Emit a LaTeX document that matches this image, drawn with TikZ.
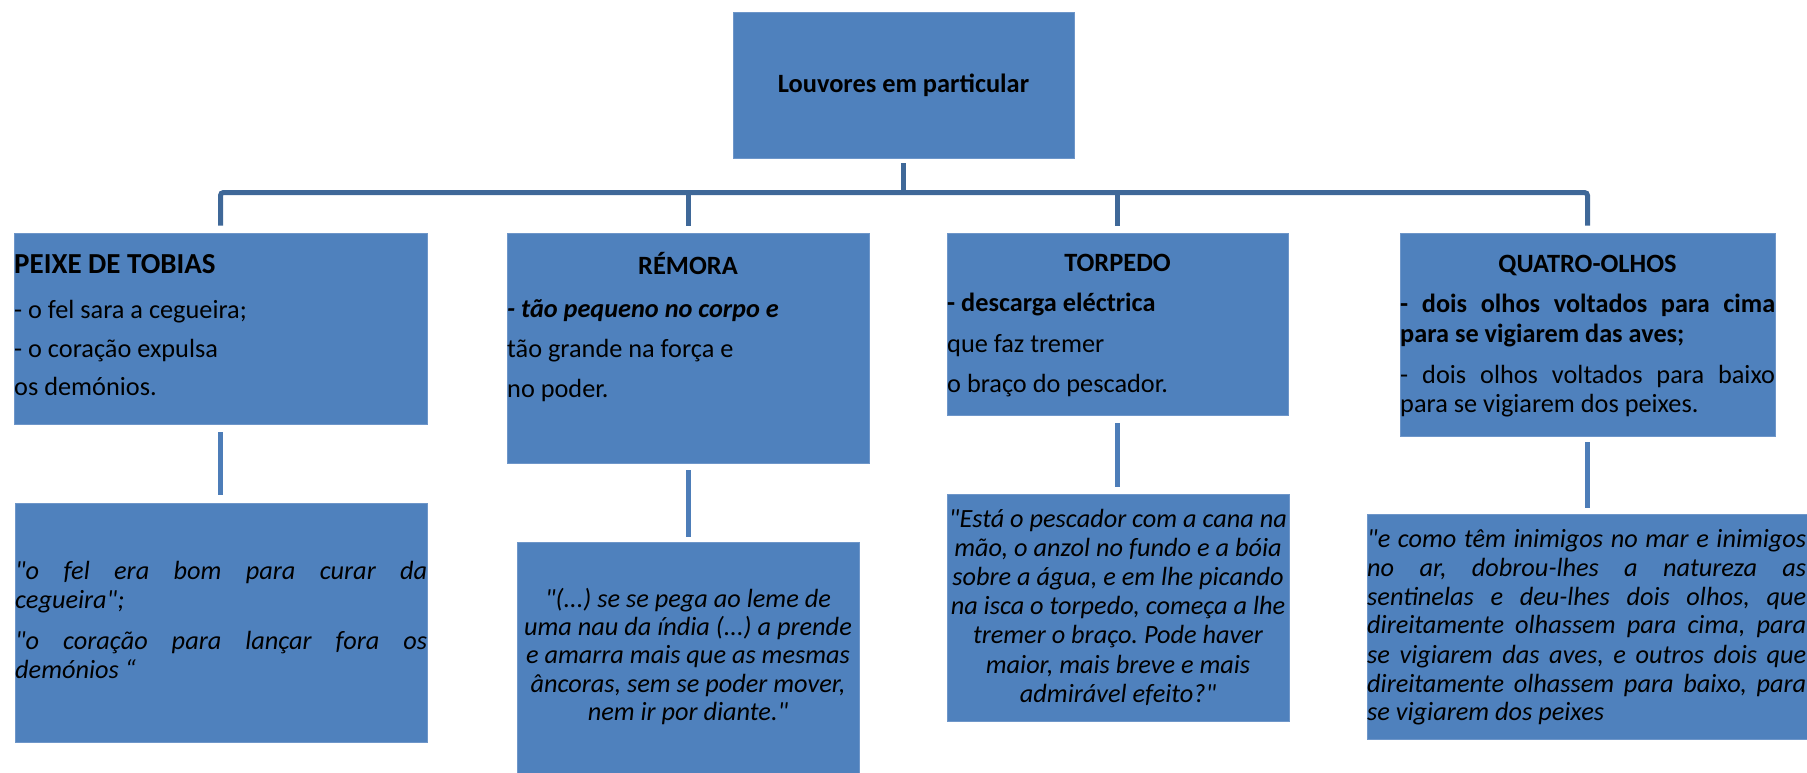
\documentclass[tikz,border=0pt]{standalone}
\usepackage{fontspec}
\setmainfont{Carlito}[Ligatures=TeXOff]
\frenchspacing
\definecolor{boxblue}{HTML}{4F81BD}
\definecolor{boxedge}{HTML}{6E96C9}
\definecolor{treeblue}{HTML}{3F6898}
\definecolor{linkblue}{HTML}{4D7DB8}
\tikzset{
  box/.style={fill=boxblue, draw=boxedge, line width=0.8pt, inner sep=0pt},
  treelink/.style={draw=treeblue, line width=5pt},
  lowlink/.style={draw=linkblue, line width=5pt},
  txt/.style={inner sep=0pt, anchor=base west, font=\fontsize{26.3}{30}\selectfont},
  ctxt/.style={inner sep=0pt, anchor=base, font=\fontsize{26.3}{30}\selectfont},
  head/.style={inner sep=0pt, anchor=base, font=\fontsize{26.4}{30}\selectfont\bfseries},
}
\begin{document}
\begin{tikzpicture}[x=1pt,y=-1pt]
\useasboundingbox (0,0) rectangle (1807,773);
% boxes
\node[box, minimum width=341pt, minimum height=146pt] (top) at (903.5,85) {};
\node[box, minimum width=413pt, minimum height=191pt] (peixe) at (220.5,328.5) {};
\node[box, minimum width=362pt, minimum height=230pt] (remora) at (688,348) {};
\node[box, minimum width=341pt, minimum height=182pt] (torpedo) at (1117.5,324) {};
\node[box, minimum width=375pt, minimum height=203pt] (quatro) at (1587.5,334.5) {};
\node[box, minimum width=412pt, minimum height=239pt] (peixeQ) at (221,622.5) {};
\node[box, minimum width=342pt, minimum height=240pt] (remoraQ) at (688,662) {};
\node[box, minimum width=342pt, minimum height=227pt] (torpedoQ) at (1118,607.5) {};
\node[box, minimum width=442pt, minimum height=225pt] (quatroQ) at (1588,626.5) {};
% tree connectors
\coordinate (bus) at (903.5,192.5);
\draw[treelink] ([yshift=-5pt]top.south) -- (top.south |- bus);
\draw[treelink, rounded corners=3pt] ([yshift=7pt]peixe.north) -- (peixe.north |- bus) -- (quatro.north |- bus) -- ([yshift=7pt]quatro.north);
\draw[treelink] (remora.north |- bus) -- ([yshift=7pt]remora.north);
\draw[treelink] (torpedo.north |- bus) -- ([yshift=7pt]torpedo.north);
% lower connectors
\draw[lowlink] ([yshift=-8pt]peixe.south) -- ([yshift=8pt]peixe.south |- peixeQ.north);
\draw[lowlink] ([yshift=-7pt]remora.south) -- ([yshift=5pt]remora.south |- remoraQ.north);
\draw[lowlink] ([yshift=-8pt]torpedo.south) -- ([yshift=7pt]torpedo.south |- torpedoQ.north);
\draw[lowlink] ([yshift=-6pt]quatro.south) -- ([yshift=6pt]quatro.south |- quatroQ.north);
% top text
\node[head] (ttop) at (903.5,93) {Louvores em particular};
% peixe
\node[txt, font=\fontsize{29}{32}\selectfont\bfseries] (p0) at (14,273) {PEIXE DE TOBIAS};
\node[txt] (p1) at (14,318) {- o fel sara a cegueira;};
\node[txt] (p2) at (14,357) {- o coração expulsa};
\node[txt] (p3) at (14,395) {os demónios.};
% remora
\node[head] (r0) at (688,274) {RÉMORA};
\node[txt] (r1) at (507,317) {\bfseries\itshape - tão pequeno no corpo e};
\node[txt] (r2) at (507,357) {tão grande na força e};
\node[txt] (r3) at (507,397) {no poder.};
% torpedo
\node[head] (o0) at (1117.5,271) {TORPEDO};
\node[txt] (o1) at (947,311) {\bfseries - descarga eléctrica};
\node[txt] (o2) at (947,352) {que faz tremer};
\node[txt] (o3) at (947,392) {o braço do pescador.};
% quatro
\node[head] (q0) at (1587.5,272) {QUATRO-OLHOS};
\node[txt] (q1) at (1400,312) {\bfseries\makebox[375pt][s]{- dois olhos voltados para cima}};
\node[txt] (q2) at (1400,342) {\bfseries para se vigiarem das aves;};
\node[txt] (q3) at (1400,383) {\makebox[375pt][s]{- dois olhos voltados para baixo}};
\node[txt] (q4) at (1400,412) {para se vigiarem dos peixes.};
% peixe quote
\node[txt] (pq1) at (15,579) {\itshape\makebox[412pt][s]{"o fel era bom para curar da}};
\node[txt] (pq2) at (15,608) {\itshape cegueira";};
\node[txt] (pq3) at (15,649) {\itshape\makebox[412pt][s]{"o coração para lançar fora os}};
\node[txt] (pq4) at (15,678) {\itshape demónios “};
% remora quote
\node[ctxt] (rq1) at (688,607) {\itshape "(...) se se pega ao leme de};
\node[ctxt] (rq2) at (688,635) {\itshape uma nau da índia (...) a prende};
\node[ctxt] (rq3) at (688,663) {\itshape e amarra mais que as mesmas};
\node[ctxt] (rq4) at (688,692) {\itshape âncoras, sem se poder mover,};
\node[ctxt] (rq5) at (688,720) {\itshape nem ir por diante."};
% torpedo quote
\node[ctxt] (tq1) at (1118,527) {\itshape "Está o pescador com a cana na};
\node[ctxt] (tq2) at (1118,556) {\itshape mão, o anzol no fundo e a bóia};
\node[ctxt] (tq3) at (1118,585) {\itshape sobre a água, e em lhe picando};
\node[ctxt] (tq4) at (1118,614) {\itshape na isca o torpedo, começa a lhe};
\node[ctxt] (tq5) at (1118,643) {\itshape tremer o braço. Pode haver};
\node[ctxt] (tq6) at (1118,673) {\itshape maior, mais breve e mais};
\node[ctxt] (tq7) at (1118,702) {\itshape admirável efeito?"};
% quatro quote
\node[txt] (qq1) at (1367,547) {\itshape\makebox[439pt][s]{"e como têm inimigos no mar e inimigos}};
\node[txt] (qq2) at (1367,576) {\itshape\makebox[439pt][s]{no ar, dobrou-lhes a natureza as}};
\node[txt] (qq3) at (1367,605) {\itshape\makebox[439pt][s]{sentinelas e deu-lhes dois olhos, que}};
\node[txt] (qq4) at (1367,633) {\itshape\makebox[439pt][s]{direitamente olhassem para cima, para}};
\node[txt] (qq5) at (1367,663) {\itshape\makebox[439pt][s]{se vigiarem das aves, e outros dois que}};
\node[txt] (qq6) at (1367,692) {\itshape\makebox[439pt][s]{direitamente olhassem para baixo, para}};
\node[txt] (qq7) at (1367,720) {\itshape se vigiarem dos peixes};
\end{tikzpicture}
\end{document}
